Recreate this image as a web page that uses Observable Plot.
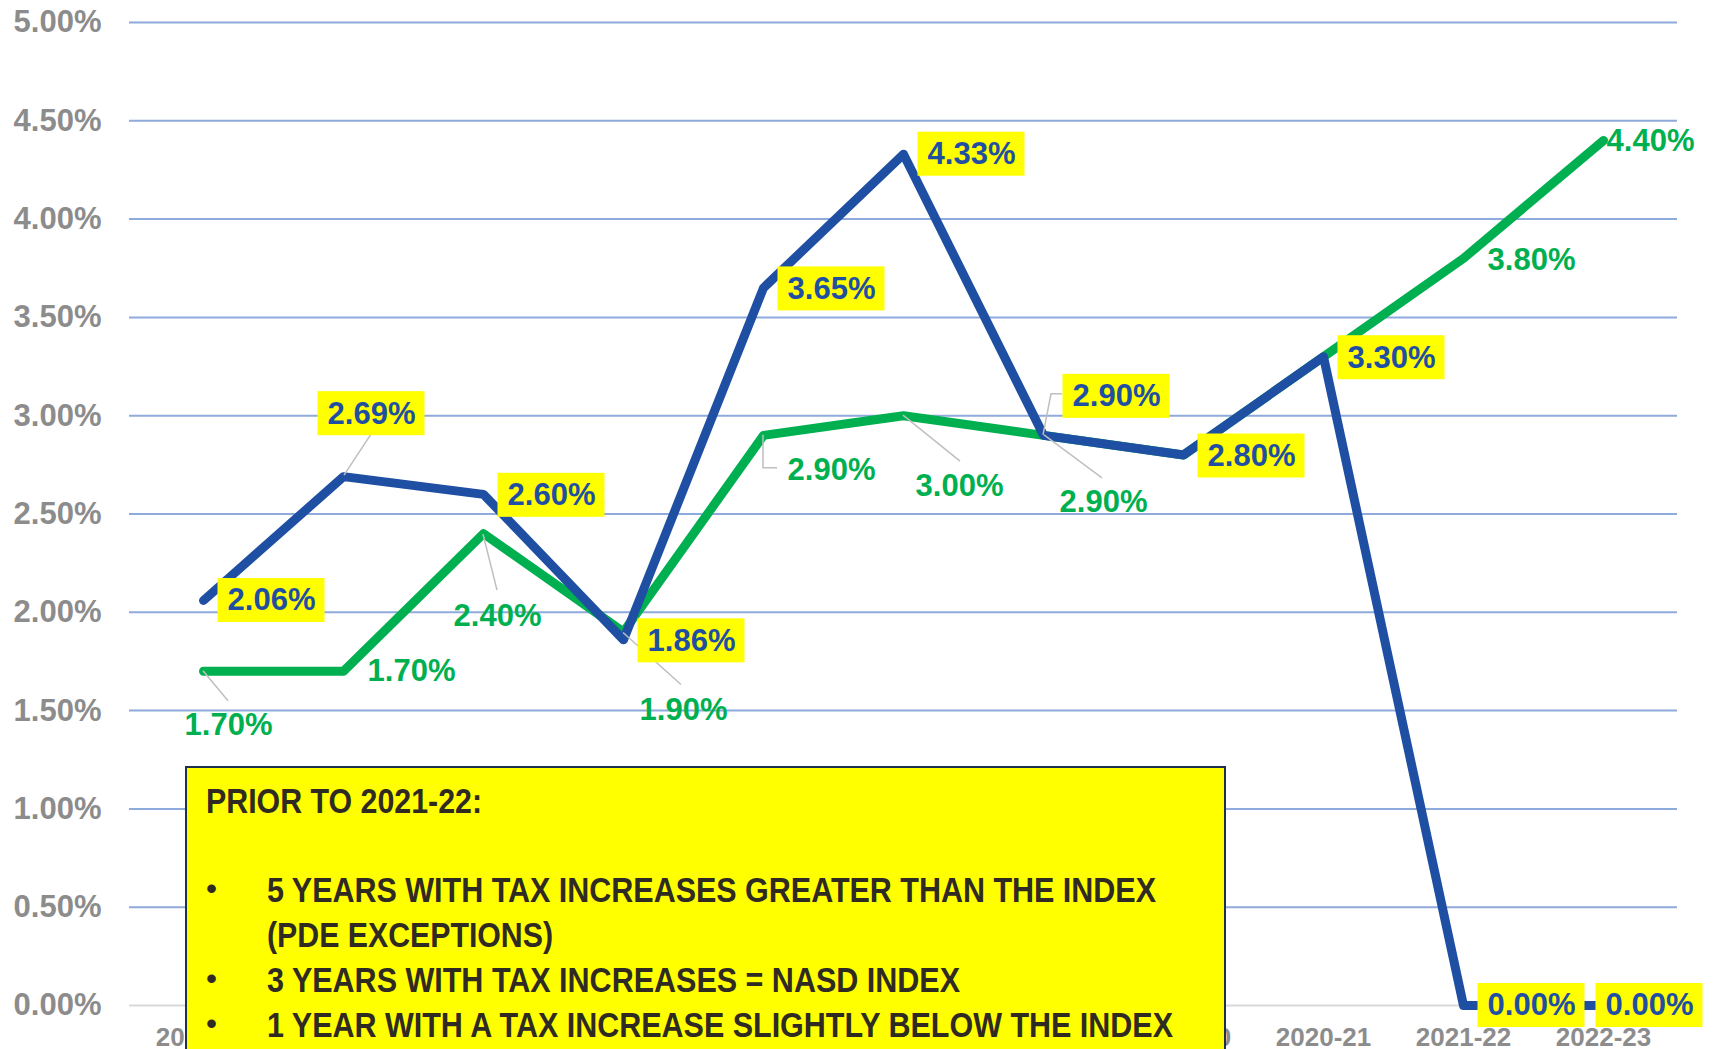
<!DOCTYPE html>
<html>
<head>
<meta charset="utf-8">
<script src="https://cdn.jsdelivr.net/npm/d3@7"></script>
<script src="https://cdn.jsdelivr.net/npm/@observablehq/plot@0.6"></script>
<style>
  html, body { margin: 0; padding: 0; background: #ffffff; }
  #chart { width: 1715px; height: 1049px; overflow: hidden; }
</style>
</head>
<body>
<div id="chart"></div>
<script>
// ---------- data ----------
const years = ["2012-13", "2013-14", "2014-15", "2015-16", "2016-17", "2017-18",
               "2018-19", "2019-20", "2020-21", "2021-22", "2022-23"];
const taxIncrease = [2.06, 2.69, 2.60, 1.86, 3.65, 4.33, 2.90, 2.80, 3.30, 0.00, 0.00];
const nasdIndex   = [1.70, 1.70, 2.40, 1.90, 2.90, 3.00, 2.90, 2.80, 3.30, 3.80, 4.40];
const yTicks = [0, 0.5, 1, 1.5, 2, 2.5, 3, 3.5, 4, 4.5, 5];
const noteTitle = "PRIOR TO 2021-22:";
const noteLines = [
  {bullet: true,  text: "5 YEARS WITH TAX INCREASES GREATER THAN THE INDEX"},
  {bullet: false, text: "(PDE EXCEPTIONS)"},
  {bullet: true,  text: "3 YEARS WITH TAX INCREASES = NASD INDEX"},
  {bullet: true,  text: "1 YEAR WITH A TAX INCREASE SLIGHTLY BELOW THE INDEX"}
];

// ---------- layout (label placement, pixels) ----------
const blueLabelOffsets  = [[68,0],[28,-63],[68,1],[68,1],[68,1],[68,0],[73,-39],[68,1],[68,1],[68,0],[46,0]];
const greenLabelOffsets = [[25,54],[68,0],[14,82],[60,78],[68,35],[56,70],[60,67],null,null,[68,2],[47,1]];
const blueLeaders  = {1: [[1,-1],[28,-42]], 6: [[0,0],[8,-41],[19,-41]]};
const greenLeaders = {0: [[0,0],[25,30]], 2: [[0,1],[14,57]], 3: [[0,1],[58,53]],
                      4: [[0,0],[0,33],[14,33]], 5: [[0,0],[57,46]], 6: [[1,0],[59,43]]};
const noteTextWidths = [889, 286, 693, 906];

const BLUE = "#1f4fa3", GREEN = "#00b050", GRAY = "#8c8c8c", GRID = "#8faadc", YELLOW = "#ffff00", INK = "#2f2a22";
const FONT = "'Liberation Sans', Arial, sans-serif";

const blueData = years.map((year, i) => ({year, value: taxIncrease[i], off: blueLabelOffsets[i], i}));
const greenData = years.map((year, i) => ({year, value: nasdIndex[i], off: greenLabelOffsets[i], i}));
const fmt = v => v.toFixed(2) + "%";

const marks = [
  Plot.gridY(yTicks.filter(t => t > 0), {stroke: GRID, strokeOpacity: 1, strokeWidth: 2}),
  Plot.ruleY([0], {stroke: "#d9d9d9", strokeWidth: 2}),
  Plot.axisY({ticks: yTicks, tickFormat: d => d.toFixed(2) + "%", tickSize: 0, tickPadding: 28,
              fontSize: 31, fontWeight: "bold", fill: GRAY, label: null}),
  Plot.axisX({tickSize: 0, tickPadding: 22, fontSize: 26, fontWeight: "bold", fill: GRAY, label: null}),
  Plot.line(greenData, {x: "year", y: "value", stroke: GREEN, strokeWidth: 9, strokeLinejoin: "round", strokeLinecap: "round"}),
  Plot.line(blueData, {x: "year", y: "value", stroke: BLUE, strokeWidth: 9, strokeLinejoin: "round", strokeLinecap: "round"}),
  ...greenData.filter(d => d.off).map(d =>
    Plot.text([d], {x: "year", y: "value", text: r => fmt(r.value), dx: d.off[0], dy: d.off[1],
                    fill: GREEN, fontSize: 31, fontWeight: "bold", ariaDescription: "green-label"})),
  ...blueData.map(d =>
    Plot.text([d], {x: "year", y: "value", text: r => fmt(r.value), dx: d.off[0], dy: d.off[1],
                    fill: BLUE, fontSize: 31, fontWeight: "bold", ariaDescription: "blue-label"}))
];

const plot = Plot.plot({
  width: 1715,
  height: 1049,
  marginLeft: 129,
  marginRight: 38,
  marginTop: 22,
  marginBottom: 44,
  style: {fontFamily: FONT, fontWeight: "bold", background: "#ffffff", overflow: "visible"},
  x: {type: "point", domain: years, padding: 0.5},
  y: {domain: [0, 5]},
  marks
});
document.getElementById("chart").appendChild(plot);

// ---------- post: leader lines, yellow label boxes, note box ----------
const svg = d3.select(plot);
const xs = plot.scale("x"), ys = plot.scale("y");
const line = d3.line();
const SVGNS = "http://www.w3.org/2000/svg";

const greenGroups = Array.from(plot.querySelectorAll('g[aria-description="green-label"]'));
const blueGroups = Array.from(plot.querySelectorAll('g[aria-description="blue-label"]'));

const leaderG = d3.select(document.createElementNS(SVGNS, "g"));
const boxG = d3.select(document.createElementNS(SVGNS, "g"));
function drawLeaders(data, leaders) {
  Object.entries(leaders).forEach(([i, pts]) => {
    const d = data[+i];
    const px = xs.apply(d.year), py = ys.apply(d.value);
    leaderG.append("path")
      .attr("d", line(pts.map(([dx, dy]) => [px + dx, py + dy])))
      .attr("fill", "none").attr("stroke", "#bfbfbf").attr("stroke-width", 1.5);
  });
}
drawLeaders(blueData, blueLeaders);
drawLeaders(greenData, greenLeaders);
blueData.forEach(d => {
  const cx = xs.apply(d.year) + d.off[0], cy = ys.apply(d.value) + d.off[1];
  boxG.append("rect").attr("x", cx - 53.5).attr("y", cy - 22).attr("width", 107).attr("height", 44).attr("fill", YELLOW);
});
// order: leaders, green labels, boxes, blue labels (all on top of lines)
plot.appendChild(leaderG.node());
greenGroups.forEach(g => plot.appendChild(g));
plot.appendChild(boxG.node());
blueGroups.forEach(g => plot.appendChild(g));

// note box
const note = svg.append("g").attr("text-anchor", "start");
note.append("rect").attr("x", 186).attr("y", 767).attr("width", 1039).attr("height", 400)
  .attr("fill", YELLOW).attr("stroke", "#1f2f4f").attr("stroke-width", 2);
const NFONT = "'Liberation Sans Narrow', 'Arial Narrow', 'Liberation Sans', Arial, sans-serif";
note.append("text").attr("x", 206).attr("y", 813).text(noteTitle)
  .attr("text-anchor", "start")
  .attr("font-family", NFONT).attr("font-size", 35).attr("font-weight", "bold").attr("fill", INK)
  .attr("textLength", 276).attr("lengthAdjust", "spacingAndGlyphs");
noteLines.forEach((l, k) => {
  const y = 902 + k * 45;
  if (l.bullet) {
    note.append("text").attr("x", 211.5).attr("y", y - 3).attr("text-anchor", "middle").text("•")
      .attr("font-family", FONT).attr("font-size", 30).attr("font-weight", "bold").attr("fill", INK);
  }
  note.append("text").attr("x", 267).attr("y", y).text(l.text)
    .attr("text-anchor", "start")
    .attr("font-family", NFONT).attr("font-size", 35).attr("font-weight", "bold").attr("fill", INK)
    .attr("textLength", noteTextWidths[k]).attr("lengthAdjust", "spacingAndGlyphs");
});
</script>
</body>
</html>
